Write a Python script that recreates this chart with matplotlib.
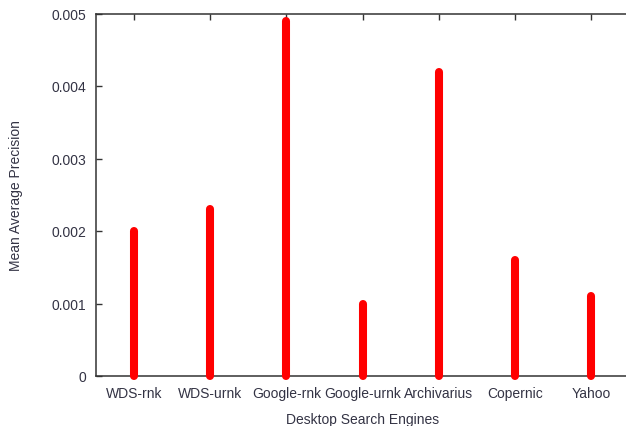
import matplotlib
matplotlib.use("Agg")
import matplotlib.pyplot as plt

engines = ["WDS-rnk", "WDS-urnk", "Google-rnk", "Google-urnk", "Archivarius", "Copernic", "Yahoo"]
map_values = [0.0020, 0.0023, 0.0049, 0.0010, 0.0042, 0.0016, 0.0011]

plt.rcParams["font.family"] = ["Liberation Sans", "DejaVu Sans"]

W, H = 626, 427
fig = plt.figure(figsize=(W / 100, H / 100), dpi=100)
left, right, top, bottom = 95.7, 629.5, 14.5, 377.0
ax = fig.add_axes([left / W, 1 - bottom / H, (right - left) / W, (bottom - top) / H])

xs = list(range(1, len(engines) + 1))
ax.vlines(xs, 0, map_values, colors="#ff0000", linewidth=5.8,
          capstyle="round", zorder=3, clip_on=False)

ax.set_xlim(0.5, len(engines) + 0.5)
ax.set_ylim(0, 0.005)
ax.set_yticks([0, 0.001, 0.002, 0.003, 0.004, 0.005])
ax.set_yticklabels(["0", "0.001", "0.002", "0.003", "0.004", "0.005"])
ax.set_xticks(xs)
ax.set_xticklabels(engines)

text_color = "#333344"
for s in ax.spines.values():
    s.set_color("#333333")
    s.set_linewidth(1.1)

ax.tick_params(axis="both", direction="in", length=4, width=1, color="#333333",
               labelsize=10, labelcolor=text_color)
ax.tick_params(axis="y", pad=7)
ax.tick_params(axis="x", pad=7, top=True)

# axis titles placed in figure pixel coordinates
fig.text(363 / W, 1 - 420 / H, "Desktop Search Engines", fontsize=10,
         color=text_color, ha="center", va="center")
fig.text(16 / W, 1 - 196 / H, "Mean Average Precision", fontsize=10,
         color=text_color, ha="center", va="center", rotation=90)

fig.savefig("out.png", dpi=100)
